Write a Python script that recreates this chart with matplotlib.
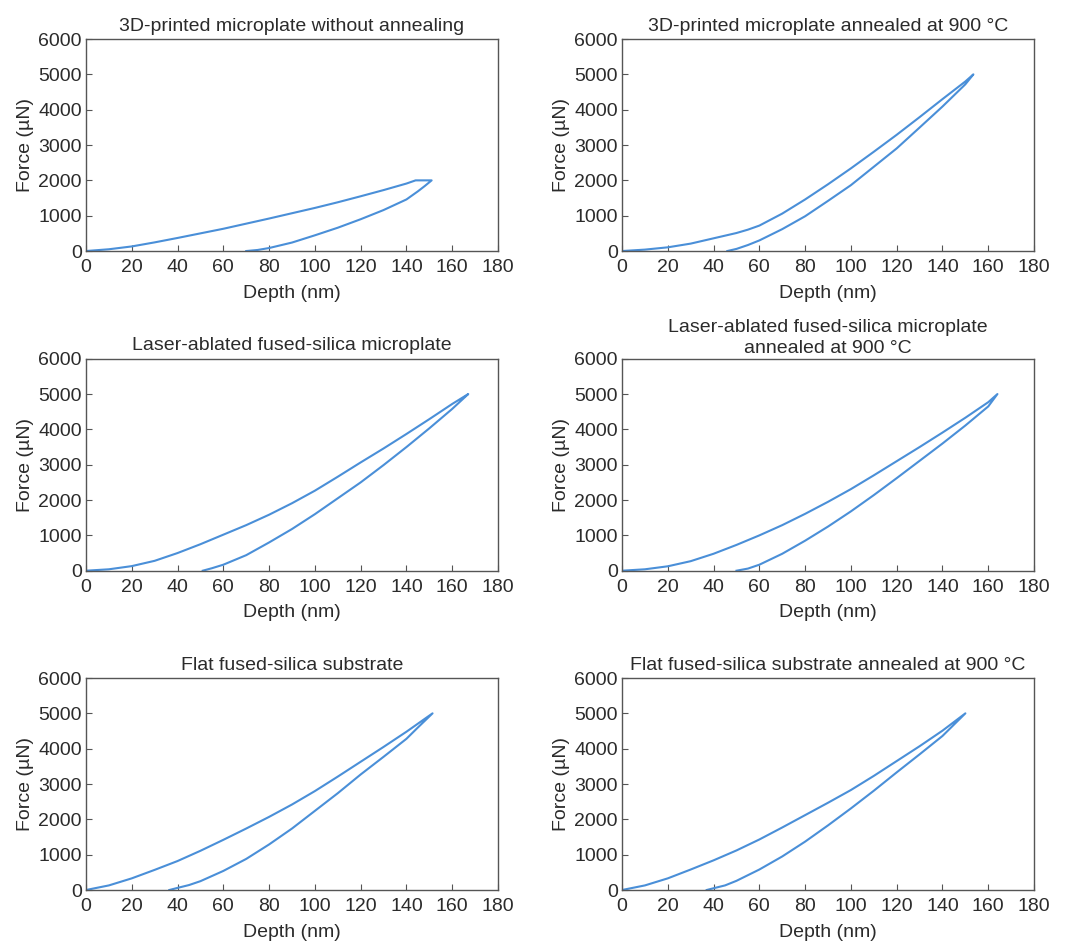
import numpy as np
import matplotlib
matplotlib.use('Agg')
import matplotlib.pyplot as plt

plt.rcParams['font.family'] = ['Liberation Sans', 'DejaVu Sans']

# load-displacement curves: depth (nm), force (uN)
titles = ['3D-printed microplate without annealing',
          '3D-printed microplate annealed at 900 °C',
          'Laser-ablated fused-silica microplate',
          'Laser-ablated fused-silica microplate\nannealed at 900 °C',
          'Flat fused-silica substrate',
          'Flat fused-silica substrate annealed at 900 °C']

depth_1 = [0, 10, 20, 30, 40, 50, 60, 70, 80, 90, 100, 110, 120, 130, 140, 144,
           151, 148, 145, 140, 130, 120, 110, 100, 90, 80, 75, 70]
force_1 = [0, 50, 130, 245, 370, 500, 630, 775, 920, 1070, 1220, 1380, 1550, 1725, 1910, 2000,
           2000, 1840, 1690, 1460, 1160, 900, 660, 445, 240, 85, 30, 0]

depth_2 = [0, 10, 20, 30, 40, 50, 55, 60, 70, 80, 90, 100, 110, 120, 130, 140, 150, 153.5,
           150, 140, 130, 120, 110, 100, 90, 80, 70, 60, 55, 50, 46]
force_2 = [0, 40, 105, 210, 360, 510, 605, 720, 1060, 1460, 1890, 2340, 2810, 3290, 3790, 4300, 4800, 5000,
           4720, 4090, 3495, 2905, 2385, 1865, 1420, 985, 620, 300, 170, 60, 0]

depth_3 = [0, 10, 20, 30, 40, 50, 60, 70, 80, 90, 100, 110, 120, 130, 140, 150, 160, 167,
           165, 160, 150, 140, 130, 120, 110, 100, 90, 80, 70, 60, 55, 51]
force_3 = [0, 40, 130, 280, 500, 750, 1020, 1290, 1585, 1910, 2265, 2660, 3065, 3460, 3870, 4290, 4720, 5000,
           4880, 4580, 4030, 3500, 2990, 2500, 2050, 1600, 1180, 800, 440, 170, 70, 0]

depth_4 = [0, 10, 20, 30, 40, 50, 60, 70, 80, 90, 100, 110, 120, 130, 140, 150, 160, 164,
           160, 150, 140, 130, 120, 110, 100, 90, 80, 70, 60, 55, 50]
force_4 = [0, 40, 125, 270, 480, 730, 1000, 1290, 1610, 1950, 2310, 2700, 3100, 3500, 3910, 4330, 4770, 5000,
           4650, 4110, 3600, 3110, 2620, 2140, 1680, 1250, 850, 480, 170, 60, 0]

depth_5 = [0, 10, 20, 30, 40, 50, 60, 70, 80, 90, 100, 110, 120, 130, 140, 151.4,
           145, 140, 130, 120, 110, 100, 90, 80, 70, 60, 50, 45, 40, 36.4]
force_5 = [0, 130, 330, 570, 820, 1110, 1420, 1740, 2070, 2420, 2800, 3210, 3630, 4050, 4480, 5000,
           4600, 4280, 3770, 3270, 2740, 2240, 1740, 1290, 880, 540, 250, 140, 60, 0]

depth_6 = [0, 10, 20, 30, 40, 50, 60, 70, 80, 90, 100, 110, 120, 130, 140, 150,
           145, 140, 130, 120, 110, 100, 90, 80, 70, 60, 50, 45, 40, 37]
force_6 = [0, 130, 330, 580, 840, 1120, 1430, 1770, 2120, 2470, 2830, 3230, 3650, 4070, 4510, 5000,
           4680, 4360, 3840, 3330, 2810, 2310, 1830, 1370, 950, 580, 260, 130, 50, 0]

curves = [(depth_1, force_1), (depth_2, force_2), (depth_3, force_3),
          (depth_4, force_4), (depth_5, force_5), (depth_6, force_6)]

lefts = [0.0803, 0.5808]
bottoms = [0.7338, 0.3948, 0.0562]
w, h = 0.3847, 0.2248

fig = plt.figure(figsize=(10.71, 9.43), dpi=100)
txt = '#2b2b2b'
fs = 14
for i, (d, f) in enumerate(curves):
    ax = fig.add_axes([lefts[i % 2], bottoms[i // 2], w, h])
    ax.plot(d, f, color='#4a8fd8', lw=1.5, solid_joinstyle='round')
    ax.set_xlim(0, 180)
    ax.set_ylim(0, 6000)
    ax.set_xticks(np.arange(0, 181, 20))
    ax.set_yticks(np.arange(0, 6001, 1000))
    ax.tick_params(direction='in', length=4, width=0.8, colors='#555555',
                   labelcolor=txt, labelsize=fs)
    ax.tick_params(axis='x', pad=6)
    ax.tick_params(axis='y', pad=3)
    for s in ax.spines.values():
        s.set_color('#555555')
        s.set_linewidth(1.0)
    ax.set_xlabel('Depth (nm)', color=txt, fontsize=fs, labelpad=6)
    ax.set_ylabel('Force (µN)', color=txt, fontsize=fs, labelpad=3)
    ax.set_title(titles[i], color=txt, fontsize=fs, pad=6 if i != 3 else 4,
                 linespacing=1.3)

fig.savefig('out.png', dpi=100, facecolor='white')
